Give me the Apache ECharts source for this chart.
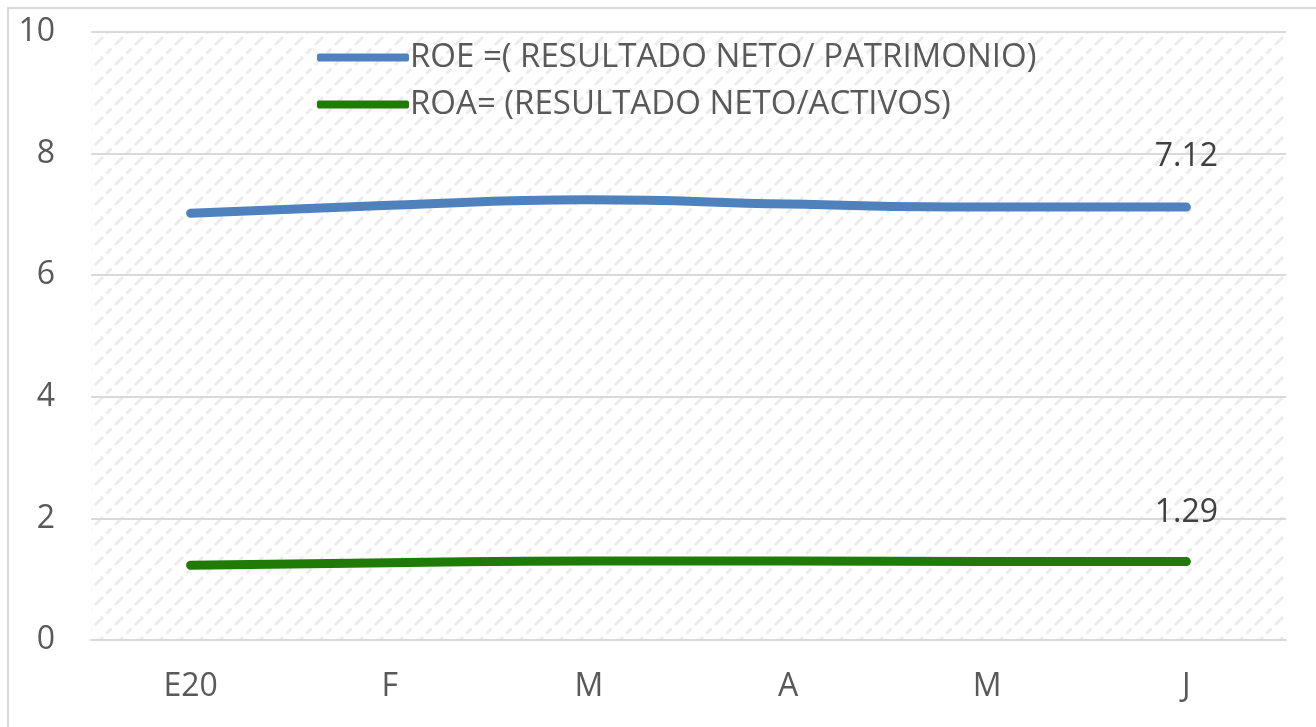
<!DOCTYPE html>
<html>
<head>
<meta charset="utf-8">
<script src="https://cdn.jsdelivr.net/npm/echarts@6/dist/echarts.min.js"></script>
<style>
html,body{margin:0;padding:0;background:#fff;}
#wrap{position:absolute;left:0;top:0;width:1316px;height:727px;overflow:hidden;}
#frame{position:absolute;left:7px;top:7px;width:1400px;height:800px;border:2px solid #d9d9d9;box-sizing:border-box;}
#chart{position:absolute;left:0;top:0;width:1316px;height:727px;}
</style>
</head>
<body>
<div id="wrap"><div id="frame"></div><div id="chart"></div></div>
<script>
const categories = ['E20','F','M','A','M','J'];
const roeName = 'ROE =( RESULTADO NETO/ PATRIMONIO)';
const roaName = 'ROA= (RESULTADO NETO/ACTIVOS)';
const roeValues = [7.02, 7.15, 7.24, 7.17, 7.12, 7.12];
const roaValues = [1.23, 1.27, 1.30, 1.30, 1.29, 1.29];

function makePattern(){
  const c = document.createElement('canvas');
  c.width = 20; c.height = 20;
  const g = c.getContext('2d');
  g.fillStyle = '#ffffff';
  g.fillRect(0,0,20,20);
  g.strokeStyle = '#ececec';
  g.lineWidth = 3;
  g.setLineDash([7,5]);
  g.beginPath();
  g.moveTo(-2,22); g.lineTo(22,-2);
  g.moveTo(-12,12); g.lineTo(12,-12);
  g.moveTo(8,32); g.lineTo(32,8);
  g.stroke();
  return c;
}

const chart = echarts.init(document.getElementById('chart'), null, {renderer:'canvas'});
const font = '"Open Sans", "Noto Sans", sans-serif';
function lastLabel(arr){
  return p => p.dataIndex === arr.length - 1 ? p.value.toFixed(2) : '';
}
chart.setOption({
  backgroundColor: 'transparent',
  animation: false,
  grid: {
    left: 91, right: 30, top: 32, bottom: 87,
    show: true,
    borderWidth: 0,
    backgroundColor: {image: makePattern(), repeat: 'repeat'}
  },
  legend: {
    top: 36, left: 312,
    orient: 'vertical',
    itemWidth: 92, itemHeight: 8, itemGap: 14,
    icon: 'roundRect',
    textStyle: {fontFamily: font, fontSize: 33, color: '#595959', padding:[0,0,0,-4]},
    data: [
      {name: roeName, itemStyle:{color:'#4f81bd', opacity: 1}},
      {name: roaName, itemStyle:{color:'#1f7a06', opacity: 1}}
    ]
  },
  xAxis: {
    type: 'category',
    data: categories,
    boundaryGap: true,
    axisLine: {show: true, lineStyle: {color: '#d9d9d9', width: 2}},
    axisTick: {show: false},
    axisLabel: {fontFamily: font, fontSize: 32, color: '#595959', margin: 31}
  },
  yAxis: {
    type: 'value',
    min: 0, max: 10, interval: 2,
    axisLine: {show: false},
    axisTick: {show: false},
    splitLine: {lineStyle: {color: '#d9d9d9', width: 2}},
    axisLabel: {fontFamily: font, fontSize: 32, color: '#595959', margin: 36}
  },
  series: [
    {
      name: roeName, type: 'line', data: roeValues, smooth: true,
      symbol: 'circle', symbolSize: 1, showSymbol: true,
      itemStyle: {color: '#4f81bd', opacity: 0},
      color: '#4f81bd',
      lineStyle: {width: 9, color: '#4f81bd', cap: 'round'},
      label: {show: true, position: 'top', distance: 34, fontFamily: font, fontSize: 32, color: '#404040', opacity: 1,
        formatter: lastLabel(roeValues)}
    },
    {
      name: roaName, type: 'line', data: roaValues, smooth: true,
      symbol: 'circle', symbolSize: 1, showSymbol: true,
      itemStyle: {color: '#1f7a06', opacity: 0},
      color: '#1f7a06',
      lineStyle: {width: 9, color: '#1f7a06', cap: 'round'},
      label: {show: true, position: 'top', distance: 32, fontFamily: font, fontSize: 32, color: '#404040', opacity: 1,
        formatter: lastLabel(roaValues)}
    }
  ]
});
</script>
</body>
</html>
